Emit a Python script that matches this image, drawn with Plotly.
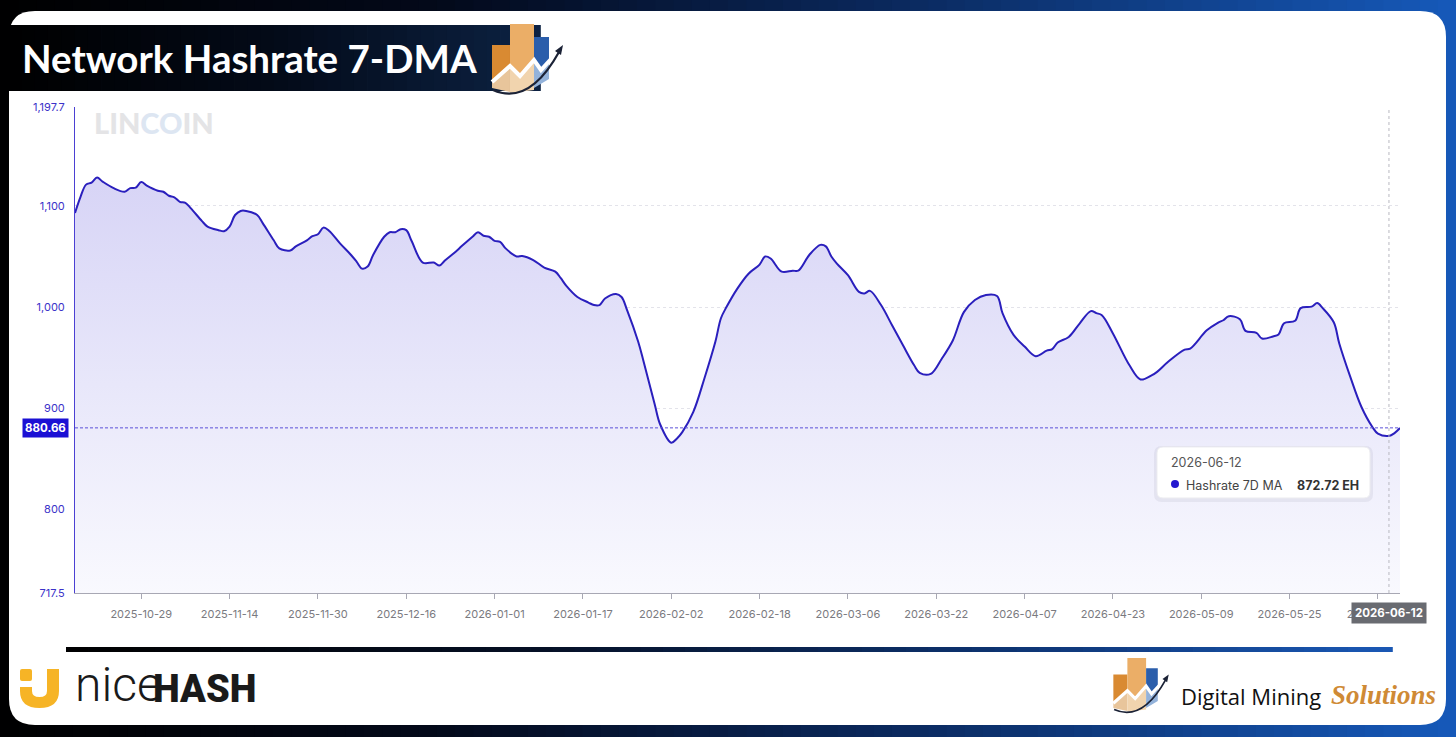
import plotly.graph_objects as go

W, H = 1456, 737

# ---- data ----
dates = [
    '2025-10-17', '2025-10-18', '2025-10-19', '2025-10-20', '2025-10-21', '2025-10-22',
    '2025-10-24', '2025-10-26', '2025-10-27', '2025-10-28', '2025-10-29', '2025-10-30',
    '2025-11-01', '2025-11-02', '2025-11-03', '2025-11-04', '2025-11-05', '2025-11-06',
    '2025-11-07', '2025-11-09', '2025-11-10', '2025-11-12', '2025-11-13', '2025-11-14',
    '2025-11-15', '2025-11-16', '2025-11-17', '2025-11-19', '2025-11-20', '2025-11-22',
    '2025-11-23', '2025-11-25', '2025-11-26', '2025-11-28', '2025-11-29', '2025-11-30',
    '2025-12-01', '2025-12-02', '2025-12-04', '2025-12-06', '2025-12-07', '2025-12-08',
    '2025-12-09', '2025-12-10', '2025-12-12', '2025-12-13', '2025-12-14', '2025-12-15',
    '2025-12-16', '2025-12-17', '2025-12-19', '2025-12-21', '2025-12-22', '2025-12-23',
    '2025-12-25', '2025-12-26', '2025-12-28', '2025-12-29', '2025-12-30', '2025-12-31',
    '2026-01-01', '2026-01-02', '2026-01-03', '2026-01-05', '2026-01-06', '2026-01-08',
    '2026-01-10', '2026-01-12', '2026-01-13', '2026-01-14', '2026-01-16', '2026-01-18',
    '2026-01-19', '2026-01-20', '2026-01-21', '2026-01-23', '2026-01-24', '2026-01-25',
    '2026-01-27', '2026-01-28', '2026-01-30', '2026-01-31', '2026-02-02', '2026-02-03',
    '2026-02-04', '2026-02-06', '2026-02-08', '2026-02-10', '2026-02-11', '2026-02-12',
    '2026-02-14', '2026-02-16', '2026-02-18', '2026-02-19', '2026-02-20', '2026-02-22',
    '2026-02-24', '2026-02-25', '2026-02-27', '2026-03-01', '2026-03-02', '2026-03-03',
    '2026-03-04', '2026-03-06', '2026-03-08', '2026-03-09', '2026-03-10', '2026-03-12',
    '2026-03-14', '2026-03-16', '2026-03-18', '2026-03-19', '2026-03-21', '2026-03-23',
    '2026-03-25', '2026-03-27', '2026-03-29', '2026-03-31', '2026-04-02', '2026-04-03',
    '2026-04-05', '2026-04-07', '2026-04-09', '2026-04-11', '2026-04-12', '2026-04-13',
    '2026-04-15', '2026-04-17', '2026-04-19', '2026-04-20', '2026-04-21', '2026-04-23',
    '2026-04-26', '2026-04-28', '2026-04-30', '2026-05-01', '2026-05-03', '2026-05-06',
    '2026-05-07', '2026-05-10', '2026-05-12', '2026-05-13', '2026-05-14', '2026-05-16',
    '2026-05-17', '2026-05-19', '2026-05-20', '2026-05-22', '2026-05-23', '2026-05-24',
    '2026-05-26', '2026-05-27', '2026-05-29', '2026-05-30', '2026-05-31', '2026-06-02',
    '2026-06-03', '2026-06-05', '2026-06-07', '2026-06-09', '2026-06-10', '2026-06-12',
    '2026-06-13', '2026-06-14',
]
hashrate = [
    1093, 1109, 1121, 1123, 1128, 1124,
    1117.5, 1114, 1117.5, 1118, 1123.5, 1120,
    1115, 1114, 1110, 1108.5, 1104, 1103,
    1097.5, 1085, 1079.5, 1076, 1075, 1079.5,
    1091, 1095, 1095, 1091, 1083, 1066,
    1058, 1056, 1060, 1066, 1070, 1072,
    1078.5, 1075.5, 1063, 1051.5, 1045, 1038,
    1040, 1051.5, 1069.5, 1074, 1074, 1077,
    1076, 1065, 1044, 1044, 1041, 1046,
    1055, 1060, 1069.5, 1074, 1070.5, 1069.5,
    1065.5, 1064.5, 1058, 1050, 1050.5, 1046.5,
    1039, 1035, 1028.5, 1021, 1010, 1004.5,
    1002, 1002, 1008.5, 1013, 1010, 997,
    966, 946, 904, 884, 866, 870,
    876.5, 896.5, 929.5, 966, 989, 1000,
    1018.5, 1033, 1042, 1050, 1048, 1035,
    1036, 1036, 1051.5, 1061.5, 1060, 1050,
    1043, 1031.5, 1015, 1013.5, 1016, 1002,
    982, 962, 942.5, 935, 934, 949,
    967, 995, 1007, 1012, 1011, 994,
    972.5, 961, 951.5, 957, 958.5, 965,
    970.5, 984, 996, 994, 992, 974,
    942.5, 928.5, 932.5, 936, 946, 958,
    959, 977, 984.5, 987, 991, 988,
    976.5, 974.5, 969, 971, 973, 984,
    986.5, 999, 1000.5, 1004, 999, 985,
    964, 931, 901.5, 881.5, 875, 872.72,
    875.5, 880.5,
]

x_ticks = ['2025-10-29', '2025-11-14', '2025-11-30', '2025-12-16', '2026-01-01',
           '2026-01-17', '2026-02-02', '2026-02-18', '2026-03-06', '2026-03-22',
           '2026-04-07', '2026-04-23', '2026-05-09', '2026-05-25', '2026-06-10']
y_ticks = [717.5, 800, 900, 1000, 1100, 1197.7]
y_labels = ['717.5', '800', '900', '1,000', '1,100', '1,197.7']

series_name = 'Hashrate 7D MA'
hover_date = '2026-06-12'
hover_value = 872.72
cursor_value = 880.66


# ---- helpers (pixel -> paper) ----
def px(x):
    return x / W


def py(y):
    return 1 - y / H


def pt(x, y):
    return f"{px(x):.5f},{py(y):.5f}"


def poly(points):
    return "M " + " L ".join(pt(x, y) for x, y in points) + " Z"


def rounded_rect(x0, y0, x1, y1, r):
    return (f"M {pt(x0 + r, y0)} L {pt(x1 - r, y0)} Q {pt(x1, y0)} {pt(x1, y0 + r)} "
            f"L {pt(x1, y1 - r)} Q {pt(x1, y1)} {pt(x1 - r, y1)} "
            f"L {pt(x0 + r, y1)} Q {pt(x0, y1)} {pt(x0, y1 - r)} "
            f"L {pt(x0, y0 + r)} Q {pt(x0, y0)} {pt(x0 + r, y0)} Z")


def hex_rgb(h):
    h = h.lstrip('#')
    return [int(h[i:i + 2], 16) for i in (0, 2, 4)]


def grad_color(stops, t):
    for (t0, c0), (t1, c1) in zip(stops, stops[1:]):
        if t <= t1:
            f = (t - t0) / (t1 - t0) if t1 > t0 else 0
            a, b = hex_rgb(c0), hex_rgb(c1)
            return 'rgb(%d,%d,%d)' % tuple(round(a[i] + (b[i] - a[i]) * f) for i in range(3))
    return stops[-1][1]


def h_gradient(x0, y0, x1, y1, stops, n=60):
    out = []
    step = (x1 - x0) / n
    for i in range(n):
        out.append(dict(type='rect', xref='paper', yref='paper', layer='below',
                        x0=px(x0 + i * step), x1=px(x0 + (i + 1) * step + 0.8),
                        y0=py(y1), y1=py(y0), line=dict(width=0),
                        fillcolor=grad_color(stops, (i + 0.5) / n)))
    return out


def path_shape(path, fill, layer='below', line_color=None, line_width=0):
    return dict(type='path', xref='paper', yref='paper', layer=layer, path=path,
                fillcolor=fill, line=dict(color=line_color or fill, width=line_width))


def icon(ox, oy, s):
    def T(pts):
        return [(ox + x * s, oy + y * s) for x, y in pts]
    shp = [
        path_shape(poly(T([(3, 21), (21, 21), (21, 42), (3, 58)])), '#d98a32'),
        path_shape(poly(T([(3, 58), (21, 42), (21, 68), (3, 64)])), '#e8c59b'),
        path_shape(poly(T([(21, 0), (45, 0), (45, 36), (31, 52), (21, 42)])), '#ebae67'),
        path_shape(poly(T([(21, 42), (31, 52), (45, 36), (45, 66), (21, 69)])), '#f1d4ae'),
        path_shape(poly(T([(45, 13), (60, 13), (60, 37), (52, 46), (45, 36)])), '#2b5eab'),
        path_shape(poly(T([(45, 36), (52, 46), (60, 37), (60, 55), (45, 64)])), '#93b2da'),
    ]
    zig = T([(3, 58), (21, 42), (31, 52), (45, 36), (52, 46), (62, 35)])
    shp.append(dict(type='path', xref='paper', yref='paper', layer='below',
                    path="M " + " L ".join(pt(x, y) for x, y in zig),
                    line=dict(color='white', width=4 * s)))
    a0, ac, a1 = T([(4, 66)])[0], T([(40, 82)])[0], T([(70, 28)])[0]
    shp.append(dict(type='path', xref='paper', yref='paper', layer='below',
                    path=f"M {pt(*a0)} Q {pt(*ac)} {pt(*a1)}",
                    line=dict(color='#1b2236', width=2.2 * s)))
    shp.append(path_shape(poly(T([(66, 27), (74, 21), (72, 31)])), '#1b2236'))
    return shp


frame_stops = [(0, '#000000'), (0.3, '#03091a'), (0.6, '#0a275a'), (1, '#1659b9')]
line_stops = [(0, '#000000'), (0.35, '#050f24'), (0.7, '#0d3370'), (1, '#1a58b5')]
banner_stops = [(0, '#000000'), (0.5, '#030a18'), (1, '#0c2243')]

shapes = []
shapes += h_gradient(0, 0, W, H, frame_stops, n=80)
shapes.append(path_shape(rounded_rect(9, 11, 1446, 725, 26), 'white'))
shapes += h_gradient(8, 25, 540, 91, banner_stops, n=40)
shapes += icon(489, 24, 1.0)
shapes += icon(1111, 658, 0.78)
shapes += h_gradient(66, 647, 1392, 652, line_stops, n=60)

# nicehash mark
shapes.append(path_shape(rounded_rect(20, 669, 32, 681, 2), '#f6b426'))
shapes.append(path_shape(
    f"M {pt(20, 687)} L {pt(32, 687)} L {pt(32, 691)} Q {pt(32, 697)} {pt(39.5, 697)} "
    f"Q {pt(47, 697)} {pt(47, 691)} L {pt(47, 669)} L {pt(59, 669)} L {pt(59, 691)} "
    f"Q {pt(59, 708)} {pt(39.5, 708)} Q {pt(20, 708)} {pt(20, 691)} Z", '#f6b426'))

# crosshair lines
shapes.append(dict(type='line', xref='paper', yref='y', layer='above',
                   x0=px(75), x1=px(1400), y0=cursor_value, y1=cursor_value,
                   line=dict(color='#5b51d8', width=1, dash='3px,2px')))
shapes.append(dict(type='line', xref='x', yref='paper', layer='above',
                   x0=hover_date, x1=hover_date, y0=py(593), y1=py(107),
                   line=dict(color='#b8b8c0', width=1, dash='3px,3px')))

# tooltip box
shapes.append(path_shape(rounded_rect(1154, 446, 1373, 502, 8), 'rgba(60,60,90,0.07)', layer='above'))
shapes.append(path_shape(rounded_rect(1157, 447, 1370, 498, 6), 'white', layer='above',
                         line_color='#ececf0', line_width=1))
shapes.append(dict(type='circle', xref='paper', yref='paper', layer='above',
                   x0=px(1171), x1=px(1179), y0=py(488), y1=py(480),
                   fillcolor='#2418cf', line=dict(width=0)))

fig = go.Figure()
fig.add_trace(go.Scatter(
    x=dates, y=hashrate, name=series_name, mode='lines',
    line=dict(color='#2a1fbd', width=2, shape='spline', smoothing=1.0),
    fill='tozeroy',
    fillgradient=dict(type='vertical', start=717.5, stop=1130,
                      colorscale=[[0, 'rgb(249,249,254)'], [0.5, 'rgb(232,231,250)'],
                                  [1, 'rgb(215,212,246)']]),
    hoverinfo='skip', showlegend=False,
))

annotations = [
    dict(text='Network Hashrate 7-DMA', x=px(20), y=py(58), xanchor='left', yanchor='middle',
         font=dict(family='Lato', size=38.5, color='white', weight='bold')),
    dict(text='LIN<span style="color:#dde6f2">CO</span>IN', x=px(92), y=py(122),
         xanchor='left', yanchor='middle',
         font=dict(family='Lato', size=29, color='#e4e4e6', weight=900)),
    dict(text=f'{cursor_value:.2f}', x=px(45.5), y=cursor_value, yref='y',
         xanchor='center', yanchor='middle', bgcolor='#1b10d4', borderpad=2,
         font=dict(family='Inter', size=11.5, color='white', weight='bold')),
    dict(text=hover_date, x=hover_date, xref='x', y=py(613), xanchor='center',
         yanchor='middle', bgcolor='#696b71', borderpad=3,
         font=dict(family='Inter', size=11.5, color='white', weight='bold')),
    dict(text=hover_date, x=px(1169), y=py(462), xanchor='left', yanchor='middle',
         font=dict(family='Inter', size=12.5, color='#555')),
    dict(text=series_name, x=px(1184), y=py(485), xanchor='left', yanchor='middle',
         font=dict(family='Inter', size=12.5, color='#444')),
    dict(text=f'{hover_value:.2f} EH', x=px(1361), y=py(485), xanchor='right', yanchor='middle',
         font=dict(family='Inter', size=12.5, color='#333', weight='bold')),
    dict(text='nice', x=px(73), y=py(684), xanchor='left', yanchor='middle',
         font=dict(family='Roboto', size=48, color='#1a1a1a', weight=300)),
    dict(text='HASH', x=px(151), y=py(689), xanchor='left', yanchor='middle',
         font=dict(family='Roboto', size=38, color='#1a1a1a', weight=900)),
    dict(text='Digital Mining', x=px(1179), y=py(696), xanchor='left', yanchor='middle',
         font=dict(family='Open Sans', size=22, color='#111')),
    dict(text='<i>Solutions</i>', x=px(1329), y=py(695), xanchor='left', yanchor='middle',
         font=dict(family='Liberation Serif', size=27, color='#cf8a35', weight='bold')),
]
for a in annotations:
    a.setdefault('xref', 'paper')
    a.setdefault('yref', 'paper')
    a['showarrow'] = False

fig.update_layout(
    width=W, height=H,
    margin=dict(l=0, r=0, t=0, b=0),
    paper_bgcolor='black', plot_bgcolor='rgba(0,0,0,0)',
    font=dict(family='Inter'),
    shapes=shapes, annotations=annotations,
    showlegend=False,
    xaxis=dict(type='date', domain=[px(75), px(1400)], range=[dates[0], dates[-1]],
               tickvals=x_ticks, ticktext=x_ticks, tickfont=dict(size=11, color='#7a7a80'),
               ticks='outside', ticklen=5, tickcolor='#a8a8b4', showline=True,
               linecolor='#a8a8b4', linewidth=1, showgrid=False, zeroline=False,
               ticklabelstandoff=6, automargin=False, fixedrange=True),
    yaxis=dict(domain=[py(593), py(107)], range=[717.5, 1197.7001],
               tickvals=y_ticks, ticktext=y_labels,
               tickfont=dict(size=11, color='#3b32c9'), ticks='', showline=True,
               linecolor='#4b40d3', linewidth=1, showgrid=True, gridcolor='#e3e3ea',
               griddash='3px,3px', zeroline=False, ticklabelstandoff=7,
               automargin=False, fixedrange=True),
)

fig.write_html("out.html", config={'displayModeBar': False},
               post_script="document.body.style.margin='0px';")
